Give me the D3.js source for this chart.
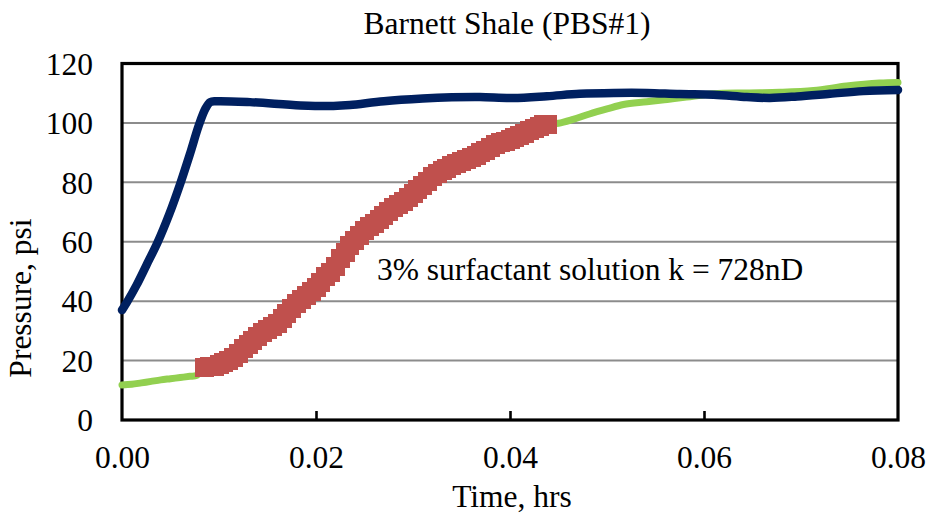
<!DOCTYPE html>
<html>
<head>
<meta charset="utf-8">
<script src="https://cdn.jsdelivr.net/npm/d3@7"></script>
<style>
  html, body { margin: 0; padding: 0; background: #fff; }
  svg { display: block; }
  text { font-family: "Liberation Serif", "Times New Roman", "DejaVu Serif", serif; fill: #000; }
</style>
</head>
<body>
<svg id="chart" width="930" height="518"></svg>
<script>
// Injection pressure (blue), downstream pressure (green) and fitted window (red)
const xTicks = [0, 0.02, 0.04, 0.06, 0.08];
const yTicks = [0, 20, 40, 60, 80, 100, 120];

const upstreamTime = [0, 0.0005, 0.0015, 0.0025, 0.0037, 0.0049, 0.0060, 0.0070, 0.0079, 0.0086, 0.0091, 0.0097,
  0.0132, 0.0184, 0.0218, 0.0235, 0.027, 0.031, 0.034, 0.0369, 0.0403, 0.0438, 0.0472, 0.0507, 0.0541,
  0.0575, 0.061, 0.0644, 0.0668, 0.0696, 0.073, 0.0764, 0.08];
const upstreamPsi = [37.0, 39.6, 45.4, 52.0, 60.0, 69.5, 79.5, 89.5, 99.0, 104.8, 107.0, 107.3,
  107.0, 105.9, 105.7, 106.0, 107.3, 108.2, 108.6, 108.7, 108.4, 109.0, 109.8, 110.1, 110.1,
  109.7, 109.5, 108.7, 108.4, 108.9, 109.8, 110.7, 111.1];

const downstreamTime = [0, 0.001, 0.002, 0.003, 0.004, 0.005, 0.006, 0.007, 0.0077, 0.0085,
  0.015, 0.02, 0.025, 0.03, 0.035, 0.04, 0.0439, 0.045, 0.0465, 0.0482, 0.05, 0.0517, 0.0541,
  0.0562, 0.0582, 0.061, 0.0644, 0.0678, 0.0713, 0.0747, 0.0781, 0.08];
const downstreamPsi = [11.8, 12.0, 12.5, 13.0, 13.5, 13.9, 14.3, 14.7, 15.0, 17.8,
  30.3, 44.6, 63.8, 76.2, 87.0, 94.5, 99.6, 99.9, 101.2, 103.0, 104.7, 106.2, 107.1,
  107.9, 108.7, 109.8, 110.1, 110.3, 110.9, 112.4, 113.4, 113.6];

const fitTime = [0.0085, 0.0090, 0.0095, 0.0100, 0.0105, 0.0110, 0.0115, 0.0120, 0.0125, 0.0130,
  0.0135, 0.0140, 0.0145, 0.0150, 0.0155, 0.0160, 0.0165, 0.0170, 0.0175, 0.0180,
  0.0185, 0.0190, 0.0195, 0.0200, 0.0205, 0.0210, 0.0215, 0.0220, 0.0225, 0.0230,
  0.0235, 0.0240, 0.0245, 0.0250, 0.0255, 0.0260, 0.0265, 0.0270, 0.0275, 0.0280,
  0.0285, 0.0290, 0.0295, 0.0300, 0.0305, 0.0310, 0.0315, 0.0320, 0.0325, 0.0330,
  0.0335, 0.0340, 0.0345, 0.0350, 0.0355, 0.0360, 0.0365, 0.0370, 0.0375, 0.0380,
  0.0385, 0.0390, 0.0395, 0.0400, 0.0405, 0.0410, 0.0415, 0.0420, 0.0425, 0.0430,
  0.0435, 0.0439];
const fitPsi = [17.8, 17.9, 18.1, 18.6, 19.3, 20.0, 20.9, 22.4, 24.0, 25.3,
  26.7, 28.0, 29.3, 30.3, 31.4, 32.6, 34.0, 35.9, 37.6, 39.2,
  40.6, 41.8, 43.1, 44.6, 46.3, 48.2, 49.8, 51.8, 54.2, 56.4,
  58.6, 60.5, 62.2, 63.8, 65.1, 66.3, 67.6, 68.9, 70.2, 71.5,
  72.6, 73.7, 74.9, 76.2, 77.6, 79.0, 80.4, 81.8, 83.0, 84.0,
  84.8, 85.5, 86.3, 87.0, 87.7, 88.3, 89.0, 89.9, 90.8, 91.8,
  92.6, 93.3, 93.9, 94.5, 95.1, 95.8, 96.6, 97.4, 98.1, 98.8,
  99.3, 99.6];

const titleText = "Barnett Shale (PBS#1)";
const xTitle = "Time, hrs";
const yTitle = "Pressure, psi";
const noteText = "3% surfactant solution k = 728nD";

const fontSize = "31.5px";
const svg = d3.select("#chart");
const plot = { left: 122, top: 63.5, right: 898, bottom: 420 };

const x = d3.scaleLinear().domain([0, 0.08]).range([plot.left, plot.right]);
const y = d3.scaleLinear().domain([0, 120]).range([plot.bottom, plot.top]);

// horizontal gridlines
svg.append("g")
  .selectAll("line")
  .data(yTicks.filter(v => v > 0 && v < 120))
  .join("line")
  .attr("x1", plot.left).attr("x2", plot.right)
  .attr("y1", d => y(d)).attr("y2", d => y(d))
  .attr("stroke", "#8c8c8c").attr("stroke-width", 2);

// plot frame
svg.append("rect")
  .attr("x", plot.left).attr("y", plot.top)
  .attr("width", plot.right - plot.left).attr("height", plot.bottom - plot.top)
  .attr("fill", "none").attr("stroke", "#000").attr("stroke-width", 3.2);

// x axis: inward ticks and labels
const xAxis = d3.axisBottom(x).tickValues(xTicks).tickFormat(d3.format(".2f")).tickSizeInner(-9).tickSizeOuter(0).tickPadding(0);
const gx = svg.append("g").attr("transform", `translate(0,${plot.bottom})`).call(xAxis);
gx.select(".domain").remove();
gx.selectAll(".tick line").attr("stroke", "#000").attr("stroke-width", 2.6)
  .attr("display", d => (d === 0 || d === 0.08) ? "none" : null);
gx.selectAll(".tick text").attr("y", 48).attr("dy", null)
  .style("font-family", "'Liberation Serif', 'Times New Roman', serif").style("font-size", fontSize).attr("fill", "#000");

// y axis labels
const yAxis = d3.axisLeft(y).tickValues(yTicks).tickFormat(d3.format("d")).tickSize(0).tickPadding(0);
const gy = svg.append("g").attr("transform", `translate(${plot.left},0)`).call(yAxis);
gy.select(".domain").remove();
gy.selectAll(".tick line").remove();
gy.selectAll(".tick text").attr("x", -29).attr("dy", "0.34em")
  .style("font-family", "'Liberation Serif', 'Times New Roman', serif").style("font-size", fontSize).attr("fill", "#000");

// curve builder
const smooth = (ts, ps) => d3.line().x((d, i) => x(ts[i])).y((d, i) => y(ps[i])).curve(d3.curveCatmullRom.alpha(0.5))(ts);

// downstream pressure
svg.append("path")
  .attr("d", smooth(downstreamTime, downstreamPsi))
  .attr("fill", "none").attr("stroke", "#92D050").attr("stroke-width", 7)
  .attr("stroke-linecap", "round").attr("stroke-linejoin", "round");

// fitting window, drawn as square markers
const markerSize = 19;
svg.append("g")
  .selectAll("rect")
  .data(fitTime.map((t, i) => ({ t, p: fitPsi[i] })))
  .join("rect")
  .attr("x", d => x(d.t) - markerSize / 2)
  .attr("y", d => y(d.p) - markerSize / 2)
  .attr("width", markerSize).attr("height", markerSize)
  .attr("fill", "#C0504D").attr("shape-rendering", "crispEdges");

// upstream pressure
svg.append("path")
  .attr("d", smooth(upstreamTime, upstreamPsi))
  .attr("fill", "none").attr("stroke", "#002060").attr("stroke-width", 8.5)
  .attr("stroke-linecap", "round").attr("stroke-linejoin", "round");

// titles and note
svg.append("text").attr("x", 507).attr("y", 34).attr("text-anchor", "middle")
  .style("font-size", fontSize).text(titleText);
svg.append("text").attr("x", 512).attr("y", 507).attr("text-anchor", "middle")
  .style("font-size", fontSize).text(xTitle);
svg.append("text").attr("transform", "translate(31,298) rotate(-90)").attr("text-anchor", "middle")
  .style("font-size", fontSize).text(yTitle);
svg.append("text").attr("x", 377).attr("y", 280)
  .style("font-size", fontSize).text(noteText);
</script>
</body>
</html>
